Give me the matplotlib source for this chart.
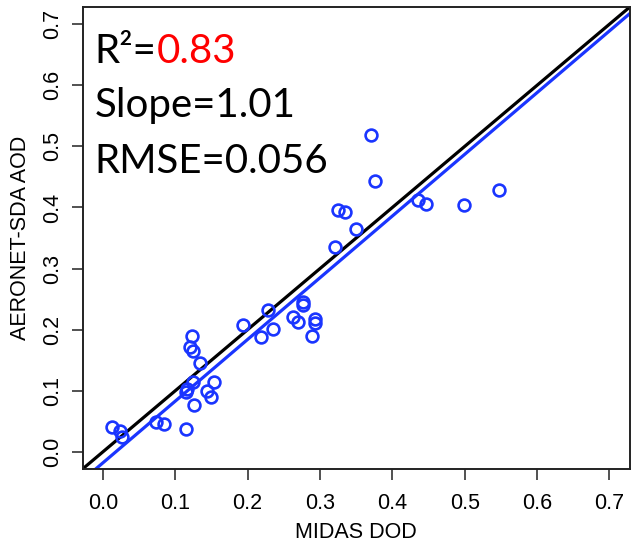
import numpy as np
import matplotlib
matplotlib.use("Agg")
import matplotlib.pyplot as plt

# MIDAS DOD vs AERONET-SDA AOD
midas_dod = [
    0.013, 0.024, 0.027, 0.074, 0.084, 0.115, 0.116, 0.115, 0.123, 0.121,
    0.124, 0.134, 0.125, 0.126, 0.144, 0.153, 0.150, 0.194, 0.219, 0.235,
    0.228, 0.263, 0.270, 0.277, 0.277, 0.293, 0.293, 0.289, 0.321, 0.325,
    0.334, 0.350, 0.370, 0.376, 0.435, 0.447, 0.499, 0.547,
]
aeronet_aod = [
    0.041, 0.034, 0.024, 0.049, 0.046, 0.038, 0.103, 0.098, 0.189, 0.172,
    0.165, 0.146, 0.114, 0.076, 0.100, 0.114, 0.089, 0.207, 0.188, 0.201,
    0.232, 0.220, 0.212, 0.245, 0.240, 0.217, 0.211, 0.190, 0.336, 0.396,
    0.392, 0.364, 0.519, 0.443, 0.413, 0.405, 0.404, 0.429,
]

r2_text = "0.83"
slope = 1.01
intercept = -0.018
rmse_text = "0.056"

ticks = [0.0, 0.1, 0.2, 0.3, 0.4, 0.5, 0.6, 0.7]
lim = (-0.028, 0.728)

fig = plt.figure(figsize=(6.31, 5.44), dpi=100)
ax = fig.add_axes([0.131, 0.138, 0.867, 0.849])

blue = "#1a35ff"
ax.plot(lim, lim, color="black", lw=2.3, zorder=2)
xx = np.array(lim)
ax.plot(xx, intercept + slope * xx, color=blue, lw=2.3, zorder=2)
ax.plot(midas_dod, aeronet_aod, "o", mfc="none", mec=blue, mew=1.9,
        ms=8.5, zorder=3)

ax.set_xlim(lim)
ax.set_ylim(lim)
ax.set_xticks(ticks)
ax.set_yticks(ticks)
labels = [f"{t:.1f}" for t in ticks]
ax.set_xticklabels(labels, fontfamily="Liberation Sans", fontsize=15.5)
ax.set_yticklabels(labels, fontfamily="Liberation Sans", fontsize=15.5,
                   rotation=90, va="center")
ax.tick_params(axis="both", direction="out", length=8, width=1.2,
               color="#333333", pad=9)
ax.tick_params(axis="y", pad=6)
for s in ax.spines.values():
    s.set_linewidth(1.4)
    s.set_color("#222222")

ax.set_xlabel("MIDAS DOD", fontfamily="Liberation Sans", fontsize=15.5,
              labelpad=6)
ax.set_ylabel("AERONET-SDA AOD", fontfamily="Liberation Sans", fontsize=15.5,
              labelpad=8)

# stats text
tfont = dict(fontfamily="Lato", fontsize=29)
t = ax.text(0.022, 0.879, "R²=", transform=ax.transAxes, va="baseline",
            **tfont)
ax.annotate(r2_text, xy=(1, 0.879), xycoords=(t, "axes fraction"),
            va="baseline", color="red", **tfont)
ax.text(0.022, 0.762, f"Slope={slope:.2f}", transform=ax.transAxes,
        va="baseline", **tfont)
ax.text(0.022, 0.641, f"RMSE={rmse_text}", transform=ax.transAxes,
        va="baseline", **tfont)

fig.savefig("out.png", dpi=100)
